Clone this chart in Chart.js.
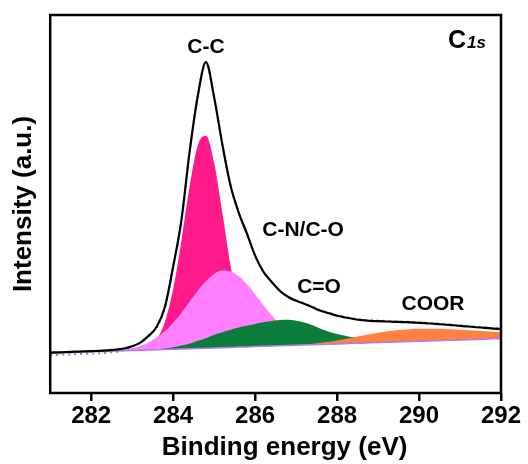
<!DOCTYPE html>
<html>
<head>
<meta charset="utf-8">
<script src="https://cdn.jsdelivr.net/npm/chart.js@4.4.1/dist/chart.umd.min.js"></script>
<style>
  html, body { margin: 0; padding: 0; background: #fff; }
  #wrap { width: 528px; height: 464px; }
</style>
</head>
<body>
<div id="wrap"><canvas id="xps"></canvas></div>
<script>
// C 1s region, binding energy in eV
const energy = [
  281.0, 281.2, 281.4, 281.6, 281.8, 282.0, 282.2, 282.4, 282.6, 282.8,
  283.0, 283.2, 283.4, 283.6, 283.8, 284.0, 284.2, 284.4, 284.6, 284.8,
  285.0, 285.2, 285.4, 285.6, 285.8, 286.0, 286.2, 286.4, 286.6, 286.8,
  287.0, 287.2, 287.4, 287.6, 287.8, 288.0, 288.2, 288.4, 288.6, 288.8,
  289.0, 289.2, 289.4, 289.6, 289.8, 290.0, 290.2, 290.4, 290.6, 290.8,
  291.0, 291.2, 291.4, 291.6, 291.8, 292.0
];
const energyTicks = [282, 284, 286, 288, 290, 292];

// raw counts (dotted) and fitted envelope
const measured = [
  37.8, 38.1, 38.4, 38.7, 39.0, 39.3, 39.6, 40.1, 40.9, 43.0,
  46.0, 50.0, 57.0, 66.0, 86.0, 126.0, 172.0, 240.0, 296.0, 330.0,
  295.0, 248.0, 207.0, 180.0, 159.0, 137.0, 121.0, 111.0, 102.0, 96.0,
  92.6, 89.6, 86.1, 82.6, 80.1, 77.6, 75.9, 74.4, 73.2, 72.6,
  72.2, 71.9, 71.6, 71.3, 71.0, 70.6, 70.1, 69.6, 68.9, 68.2,
  67.6, 66.9, 66.2, 65.6, 64.9, 64.3
];
const envelope = [
  40.3, 40.6, 40.9, 41.2, 41.5, 41.8, 42.1, 42.6, 43.2, 44.4,
  46.6, 50.3, 57.0, 66.0, 86.0, 126.0, 172.0, 240.0, 296.0, 330.0,
  295.0, 248.0, 207.0, 180.0, 159.0, 137.0, 121.0, 111.0, 102.0, 96.0,
  92.0, 89.0, 85.5, 82.0, 79.5, 77.0, 75.3, 73.8, 72.6, 72.0,
  71.6, 71.3, 71.0, 70.7, 70.4, 70.0, 69.5, 69.0, 68.3, 67.6,
  67.0, 66.3, 65.6, 65.0, 64.3, 63.7
];
const background = [
  39.7, 40.0, 40.2, 40.5, 40.8, 41.0, 41.3, 41.5, 41.8, 42.1,
  42.3, 42.6, 42.9, 43.1, 43.4, 43.7, 43.9, 44.2, 44.5, 44.7,
  45.0, 45.2, 45.5, 45.8, 46.0, 46.3, 46.6, 46.8, 47.1, 47.4,
  47.6, 47.9, 48.1, 48.4, 48.7, 48.9, 49.2, 49.5, 49.7, 50.0,
  50.3, 50.5, 50.8, 51.1, 51.3, 51.6, 51.8, 52.1, 52.4, 52.6,
  52.9, 53.2, 53.4, 53.7, 54.0, 54.2
];

// fitted components (drawn above the background)
const peakCC = [
  39.7, 40.0, 40.2, 40.5, 40.8, 41.0, 41.3, 41.5, 41.8, 42.1,
  42.3, 43.5, 46.4, 53.8, 71.1, 103.4, 151.3, 205.6, 246.9, 256.5,
  230.0, 179.9, 127.4, 87.3, 63.6, 52.5, 48.4, 47.2, 47.1, 47.4,
  47.6, 47.9, 48.1, 48.4, 48.7, 48.9, 49.2, 49.5, 49.7, 50.0,
  50.3, 50.5, 50.8, 51.1, 51.3, 51.6, 51.8, 52.1, 52.4, 52.6,
  52.9, 53.2, 53.4, 53.7, 54.0, 54.2
];
const peakCN = [
  39.7, 40.0, 40.2, 40.5, 40.9, 41.2, 41.6, 42.0, 42.6, 43.5,
  44.8, 47.0, 50.4, 55.6, 61.9, 69.8, 79.8, 90.9, 102.0, 111.6,
  118.8, 122.1, 121.3, 116.6, 108.5, 98.5, 87.8, 77.6, 68.9, 62.0,
  56.8, 53.4, 51.2, 50.1, 49.6, 49.3, 49.4, 49.5, 49.7, 50.0,
  50.3, 50.5, 50.8, 51.1, 51.3, 51.6, 51.8, 52.1, 52.4, 52.6,
  52.9, 53.2, 53.4, 53.7, 54.0, 54.2
];
const peakCO = [
  39.7, 40.0, 40.2, 40.5, 40.8, 41.0, 41.3, 41.5, 41.8, 42.1,
  42.3, 42.6, 42.9, 43.6, 44.4, 45.7, 47.4, 49.2, 52.0, 54.7,
  58.0, 60.7, 63.0, 65.3, 67.0, 68.8, 70.6, 71.8, 72.8, 73.1,
  72.1, 70.4, 67.6, 64.1, 61.2, 58.9, 57.2, 55.5, 54.2, 53.0,
  52.3, 51.8, 51.6, 51.6, 51.6, 51.8, 51.8, 52.1, 52.4, 52.6,
  52.9, 53.2, 53.4, 53.7, 54.0, 54.2
];
const peakCOOR = [
  39.7, 40.0, 40.2, 40.5, 40.8, 41.0, 41.3, 41.5, 41.8, 42.1,
  42.3, 42.6, 42.9, 43.1, 43.4, 43.7, 43.9, 44.2, 44.5, 44.7,
  45.0, 45.2, 45.5, 45.8, 46.0, 46.3, 46.6, 46.8, 47.1, 47.4,
  47.9, 48.5, 49.1, 50.0, 51.1, 52.3, 53.8, 55.4, 57.0, 58.6,
  60.1, 61.3, 62.4, 63.2, 63.7, 64.0, 64.0, 64.0, 63.9, 63.6,
  63.2, 62.7, 62.1, 61.6, 61.0, 60.4
];

const peakNames = ['C-C', 'C-N/C-O', 'C=O', 'COOR'];

const FONT = "'Liberation Sans', Arial, sans-serif";

function toPoints(arr) {
    return arr.map((v, i) => ({ x: energy[i], y: v }));
}

// where the peak names sit, in (eV, intensity)
const nameAnchors = [
    [284.8, 347],
    [287.17, 164],
    [287.56, 107],
    [290.34, 90]
];

const xpsDecor = {
    id: 'xpsDecor',
    afterDatasetsDraw(chart) {
        const { ctx, chartArea, scales } = chart;
        ctx.save();
        ctx.fillStyle = '#000';
        ctx.textAlign = 'center';
        ctx.textBaseline = 'alphabetic';
        ctx.font = 'bold 21px ' + FONT;
        peakNames.forEach((name, i) => {
            const px = scales.x.getPixelForValue(nameAnchors[i][0]);
            const py = scales.y.getPixelForValue(nameAnchors[i][1]);
            ctx.fillText(name, px, py + 7.5);
        });

        // x axis title, sits a bit right of the plot centre
        ctx.textBaseline = 'middle';
        ctx.font = 'bold 26px ' + FONT;
        ctx.fillText('Binding energy (eV)', (chartArea.left + chartArea.right) / 2 + 9, chart.height - 16);

        // region tag in the corner
        ctx.textAlign = 'left';
        ctx.textBaseline = 'alphabetic';
        ctx.font = 'bold 25px ' + FONT;
        const cx = chartArea.right - 53;
        const cy = chartArea.top + 33;
        ctx.fillText('C', cx, cy);
        const w = ctx.measureText('C').width;
        ctx.font = 'italic bold 17px ' + FONT;
        ctx.fillText('1s', cx + w + 1, cy);

        // frame
        ctx.strokeStyle = '#000';
        ctx.lineWidth = 2.5;
        ctx.strokeRect(chartArea.left, chartArea.top,
            chartArea.right - chartArea.left, chartArea.bottom - chartArea.top);
        ctx.restore();
    }
};

const ctx = document.getElementById('xps').getContext('2d');
new Chart(ctx, {
    type: 'line',
    data: {
        datasets: [
            {
                label: 'Envelope',
                data: toPoints(envelope),
                borderColor: '#000',
                borderWidth: 2.2,
                pointRadius: 0,
                tension: 0.4,
                cubicInterpolationMode: 'monotone',
                fill: false
            },
            {
                label: 'Raw',
                data: toPoints(measured),
                borderColor: '#8c8c8c',
                borderWidth: 2,
                borderDash: [2, 4],
                pointRadius: 0,
                cubicInterpolationMode: 'monotone',
                fill: false
            },
            {
                label: 'Background',
                data: toPoints(background),
                borderColor: '#b07cf0',
                borderWidth: 1.5,
                pointRadius: 0,
                fill: false
            },
            {
                label: 'COOR',
                data: toPoints(peakCOOR),
                borderWidth: 0,
                borderColor: 'rgba(0,0,0,0)',
                backgroundColor: '#ff8040',
                pointRadius: 0,
                cubicInterpolationMode: 'monotone',
                fill: 2
            },
            {
                label: 'C=O',
                data: toPoints(peakCO),
                borderWidth: 0,
                borderColor: 'rgba(0,0,0,0)',
                backgroundColor: '#0b7d3b',
                pointRadius: 0,
                cubicInterpolationMode: 'monotone',
                fill: 2
            },
            {
                label: 'C-N/C-O',
                data: toPoints(peakCN),
                borderWidth: 0,
                borderColor: 'rgba(0,0,0,0)',
                backgroundColor: '#ff80ff',
                pointRadius: 0,
                cubicInterpolationMode: 'monotone',
                fill: 2
            },
            {
                label: 'C-C',
                data: toPoints(peakCC),
                borderWidth: 0,
                borderColor: 'rgba(0,0,0,0)',
                backgroundColor: '#ff1a8c',
                pointRadius: 0,
                cubicInterpolationMode: 'monotone',
                fill: 2
            }
        ]
    },
    options: {
        responsive: true,
        maintainAspectRatio: false,
        animation: false,
        // bottom padding leaves room for the x title drawn by xpsDecor
        layout: { padding: { top: 15, right: 27, left: 4, bottom: 33 } },
        plugins: {
            legend: { display: false },
            tooltip: { enabled: false }
        },
        scales: {
            x: {
                type: 'linear',
                min: 281,
                max: 292,
                afterBuildTicks: (scale) => {
                    scale.ticks = energyTicks.map(v => ({ value: v }));
                },
                grid: {
                    drawOnChartArea: false,
                    drawTicks: true,
                    tickLength: 8,
                    color: '#000',
                    lineWidth: 2.5
                },
                border: { display: false },
                ticks: {
                    color: '#000',
                    padding: 3,
                    maxRotation: 0,
                    font: { family: FONT, size: 24, weight: 'bold', lineHeight: 1 }
                },
                title: { display: false }
            },
            y: {
                min: 0,
                max: 377,
                grid: { display: false },
                border: { display: false },
                ticks: { display: false },
                title: {
                    display: true,
                    text: 'Intensity (a.u.)',
                    color: '#000',
                    padding: { top: 4, bottom: 3 },
                    font: { family: FONT, size: 26, weight: 'bold', lineHeight: 1.2 }
                }
            }
        }
    },
    plugins: [xpsDecor]
});
</script>
</body>
</html>
